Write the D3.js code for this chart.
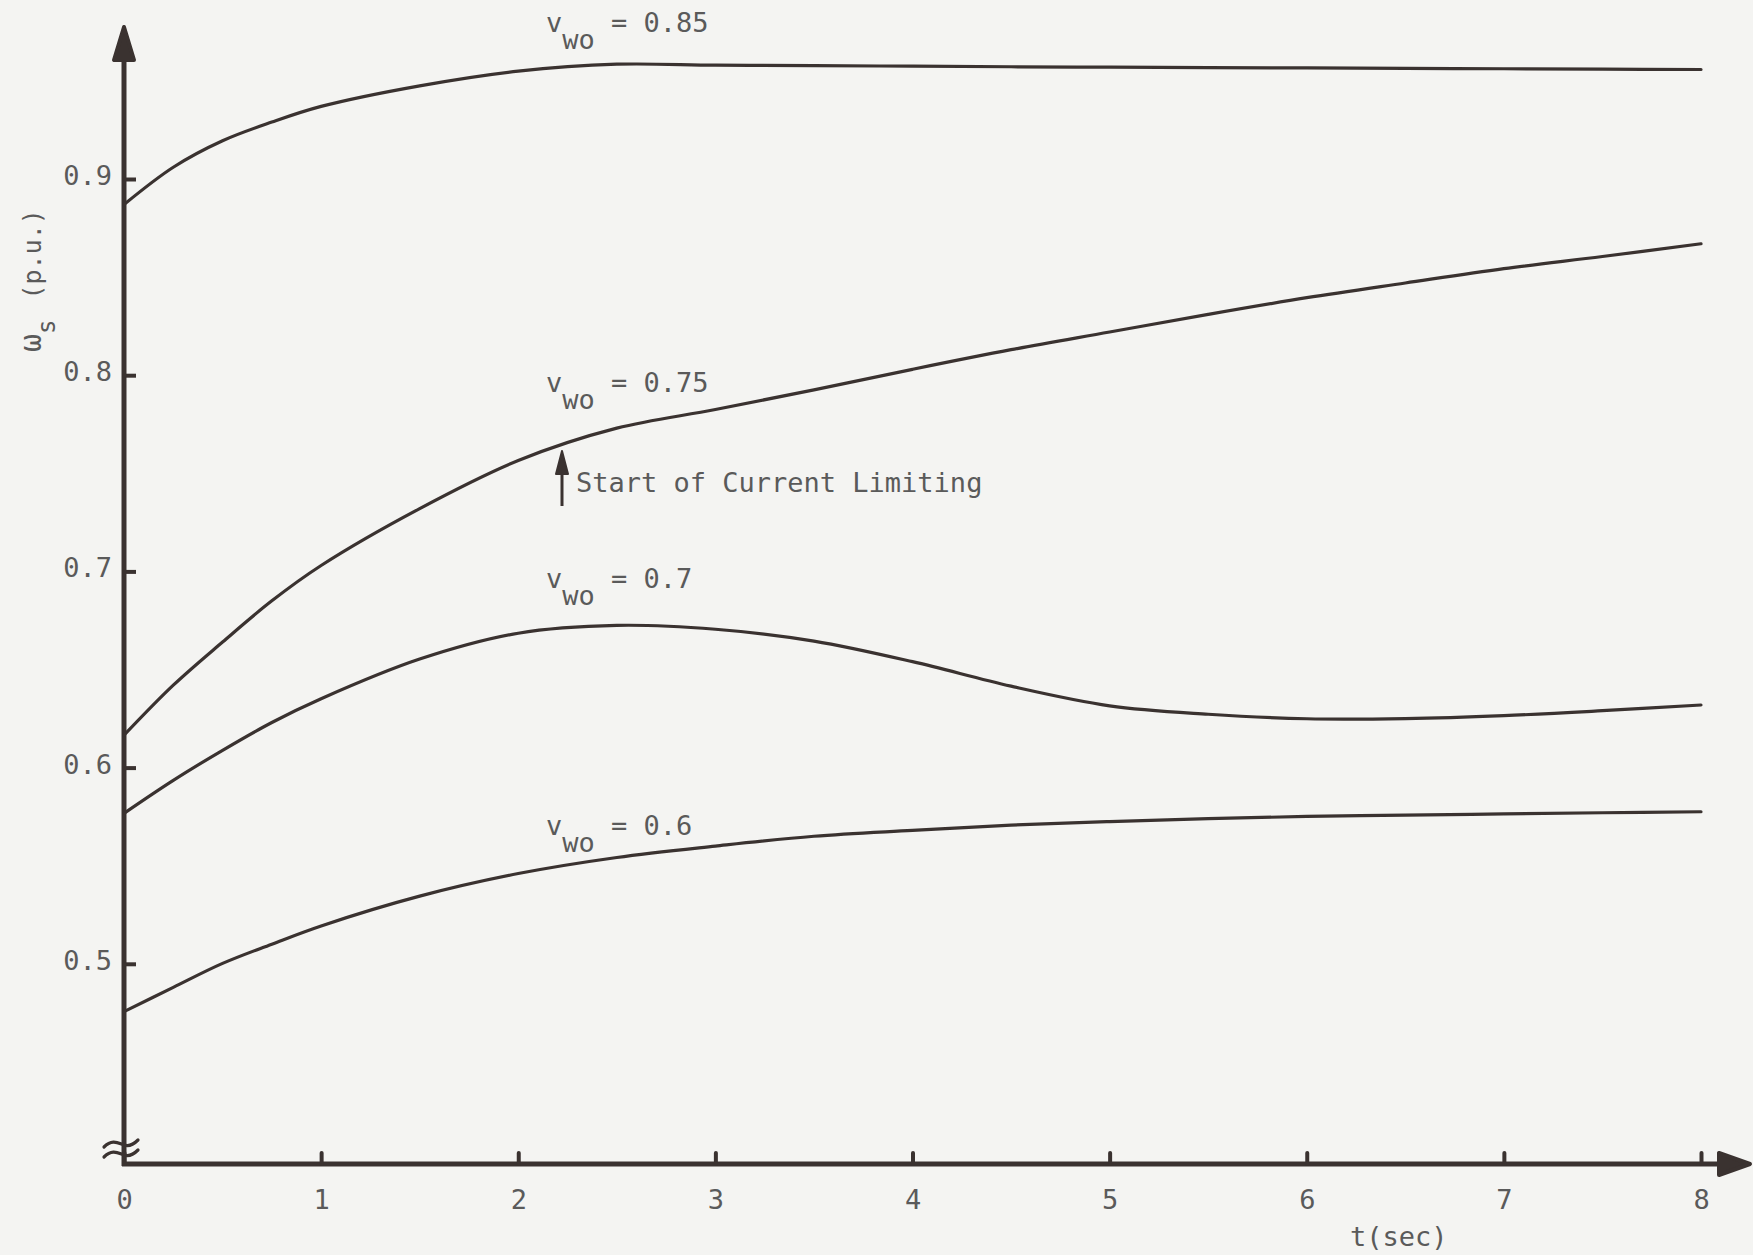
<!DOCTYPE html>
<html>
<head>
<meta charset="utf-8">
<script src="https://cdn.jsdelivr.net/npm/d3@7"></script>
<style>
  html, body { margin: 0; padding: 0; background: #f4f4f2; }
  svg text { font-family: "DejaVu Sans Mono", monospace; }
</style>
</head>
<body>
<svg id="chart"></svg>
<script>
// time axis (sec) and the four speed curves
const tValues = [0, 0.25, 0.5, 0.75, 1, 1.5, 2, 2.5, 3, 3.5, 4, 4.5, 5, 5.5, 6, 6.5, 7, 7.5, 8];
const wsVwo085 = [0.887, 0.906, 0.9195, 0.929, 0.937, 0.9475, 0.955, 0.9585, 0.958, 0.9578, 0.9575, 0.9572, 0.957, 0.9568, 0.9566, 0.9564, 0.9562, 0.956, 0.9558];
const wsVwo075 = [0.6165, 0.642, 0.664, 0.685, 0.703, 0.732, 0.7565, 0.773, 0.7825, 0.7925, 0.803, 0.813, 0.822, 0.831, 0.8395, 0.847, 0.8543, 0.8605, 0.867];
const wsVwo070 = [0.5767, 0.5935, 0.6088, 0.623, 0.6351, 0.6553, 0.6685, 0.6725, 0.6705, 0.6645, 0.654, 0.6415, 0.6315, 0.6272, 0.6249, 0.625, 0.6265, 0.629, 0.6319];
const wsVwo060 = [0.4756, 0.488, 0.5002, 0.51, 0.5193, 0.5345, 0.546, 0.5542, 0.56, 0.565, 0.568, 0.5707, 0.5725, 0.574, 0.5751, 0.5758, 0.5764, 0.577, 0.5775];
const seriesNames = ["0.85", "0.75", "0.7", "0.6"];
const xTickValues = [0, 1, 2, 3, 4, 5, 6, 7, 8];
const yTickValues = [0.5, 0.6, 0.7, 0.8, 0.9];

const W = 1753, H = 1255;
const ink = "#3a3230";
const textInk = "#5a5a5a";

const svg = d3.select("#chart").attr("width", W).attr("height", H);
svg.append("rect").attr("width", W).attr("height", H).attr("fill", "#f4f4f2");

const x = d3.scaleLinear().domain([0, 8]).range([124, 1701]);
const y = d3.scaleLinear().domain([0.5, 0.9]).range([963.8, 179]);
const axisY = 1164;

// axes lines
svg.append("line")
  .attr("x1", x(0)).attr("x2", x(0))
  .attr("y1", axisY + 2).attr("y2", 58)
  .attr("stroke", ink).attr("stroke-width", 5);
svg.append("path")
  .attr("d", "M" + x(0) + ",27 L" + (x(0) - 10) + ",60 L" + (x(0) + 10) + ",60 Z")
  .attr("fill", ink).attr("stroke", ink).attr("stroke-width", 4).attr("stroke-linejoin", "round");

svg.append("line")
  .attr("x1", x(0) - 2).attr("x2", 1722)
  .attr("y1", axisY).attr("y2", axisY)
  .attr("stroke", ink).attr("stroke-width", 5);
svg.append("path")
  .attr("d", "M1750," + axisY + " L1719," + (axisY - 11) + " L1719," + (axisY + 11) + " Z")
  .attr("fill", ink).attr("stroke", ink).attr("stroke-width", 4).attr("stroke-linejoin", "round");

// axis break marks
[0, 10].forEach(function(off) {
  svg.append("path")
    .attr("d", "M104," + (1147 + off) + " C112," + (1139 + off) + " 118," + (1143 + off) + " 124," + (1145 + off) +
      " C130," + (1147 + off) + " 134," + (1144 + off) + " 138," + (1140 + off))
    .attr("fill", "none").attr("stroke", ink).attr("stroke-width", 3.2).attr("stroke-linecap", "round");
});

// ticks and labels through d3 axes
const yAxis = d3.axisLeft(y).tickValues(yTickValues).tickSizeInner(-12).tickSizeOuter(0).tickPadding(12)
  .tickFormat(d3.format(".1f"));
const gy = svg.append("g").attr("transform", "translate(" + x(0) + ",0)").call(yAxis);
gy.select(".domain").remove();
gy.selectAll(".tick line").attr("stroke", ink).attr("stroke-width", 4);
gy.selectAll(".tick text")
  .attr("fill", textInk).attr("font-size", 27).attr("font-family", "DejaVu Sans Mono")
  .attr("dy", "0.2em");

const xAxis = d3.axisBottom(x).tickValues(xTickValues).tickSizeInner(-11).tickSizeOuter(0).tickPadding(26)
  .tickFormat(d3.format("d"));
const gx = svg.append("g").attr("transform", "translate(0," + axisY + ")").call(xAxis);
gx.select(".domain").remove();
gx.selectAll(".tick line").attr("stroke", ink).attr("stroke-width", 4).attr("stroke-linecap", "round");
gx.selectAll(".tick text")
  .attr("fill", textInk).attr("font-size", 27).attr("font-family", "DejaVu Sans Mono");

// curves
const curveData = [wsVwo085, wsVwo075, wsVwo070, wsVwo060];
const line = d3.line()
  .x(function(d) { return x(d[0]); })
  .y(function(d) { return y(d[1]); })
  .curve(d3.curveCatmullRom.alpha(0.5));

svg.append("g").selectAll("path")
  .data(curveData)
  .join("path")
  .attr("d", function(vals) {
    return line(tValues.map(function(t, i) { return [t, vals[i]]; }));
  })
  .attr("fill", "none")
  .attr("stroke", ink)
  .attr("stroke-width", 3.2)
  .attr("stroke-linecap", "round");

// curve labels  v_wo = ...
const labelBaselines = [32, 392, 588, 835];
seriesNames.forEach(function(name, i) {
  const t = svg.append("text")
    .attr("x", 546).attr("y", labelBaselines[i])
    .attr("font-size", 27).attr("fill", textInk);
  t.append("tspan").text("v");
  t.append("tspan").attr("dy", 17).text("wo");
  t.append("tspan").attr("dy", -17).attr("xml:space", "preserve").text(" = " + name);
});

// current limiting annotation
svg.append("line")
  .attr("x1", 562).attr("x2", 562).attr("y1", 470).attr("y2", 506)
  .attr("stroke", ink).attr("stroke-width", 3);
svg.append("path")
  .attr("d", "M562,451 L556,474 L568,474 Z")
  .attr("fill", ink).attr("stroke", ink).attr("stroke-width", 2).attr("stroke-linejoin", "round");
svg.append("text")
  .attr("x", 576).attr("y", 492)
  .attr("font-size", 27).attr("fill", textInk)
  .text("Start of Current Limiting");

// axis titles
svg.append("text")
  .attr("x", 1350).attr("y", 1246)
  .attr("font-size", 27).attr("fill", textInk)
  .text("t(sec)");

const yl = svg.append("text")
  .attr("transform", "translate(41,352) rotate(-90)")
  .attr("fill", textInk);
yl.append("tspan").attr("font-size", 30).text("\u03c9");
yl.append("tspan").attr("font-size", 24).attr("dy", 14).text("s");
yl.append("tspan").attr("font-size", 25).attr("dy", -14).attr("dx", 20).text("(p.u.)");
</script>
</body>
</html>
